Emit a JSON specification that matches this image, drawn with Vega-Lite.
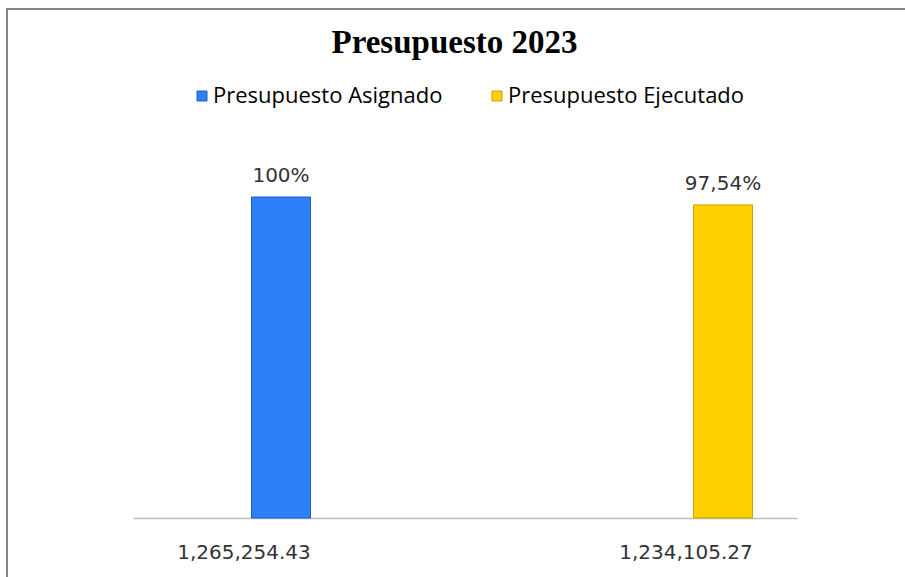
{
  "$schema": "https://vega.github.io/schema/vega-lite/v6.json",
  "width": 901,
  "height": 571,
  "autosize": {"type": "none"},
  "padding": {"left": 7, "top": 9, "right": -3, "bottom": -3},
  "background": "white",
  "config": {"view": {"stroke": "#878787", "strokeWidth": 2}},
  "title": {"text": "Presupuesto 2023", "font": "Liberation Serif", "fontSize": 33, "fontWeight": "bold", "color": "#000000", "anchor": "middle", "baseline": "alphabetic", "offset": -77, "dx": -3},
  "data": {"values": [
    {"serie": "Presupuesto Asignado", "monto": "1,265,254.43", "pct": 100, "etiqueta": "100%"},
    {"serie": "Presupuesto Ejecutado", "monto": "1,234,105.27", "pct": 97.54, "etiqueta": "97,54%"}
  ]},
  "encoding": {
    "x": {
      "field": "monto", "type": "nominal", "sort": null,
      "scale": {"range": [126, 790], "paddingInner": 0.8665, "paddingOuter": 0.1844, "align": 0.727},
      "axis": {"orient": "bottom", "offset": -62, "title": null, "grid": false, "domainColor": "#bfbfbf", "domainWidth": 1.5, "ticks": false, "tickSize": 0, "labelPadding": 24, "labelFont": "DejaVu Sans", "labelFontSize": 20, "labelColor": "#333333", "labelOffset": -37, "labelAngle": 0, "labelLimit": 0}
    },
    "y": {"field": "pct", "type": "quantitative", "scale": {"domain": [-19.31, 158.57], "nice": false, "zero": false}, "axis": null}
  },
  "layer": [
    {
      "mark": {"type": "bar", "strokeWidth": 1},
      "encoding": {
        "y2": {"datum": 0},
        "color": {
          "field": "serie", "type": "nominal",
          "scale": {"domain": ["Presupuesto Asignado", "Presupuesto Ejecutado"], "range": ["#2e80f8", "#ffd000"]},
          "legend": {"orient": "none", "legendX": 184, "legendY": 76, "direction": "horizontal", "title": null, "padding": 0, "symbolType": "square", "symbolSize": 100, "labelFont": "Open Sans", "labelFontSize": 22, "labelColor": "#000000", "labelLimit": 0, "columnPadding": 43, "labelOffset": 0, "symbolStrokeWidth": 1}
        },
        "stroke": {
          "field": "serie", "type": "nominal",
          "scale": {"domain": ["Presupuesto Asignado", "Presupuesto Ejecutado"], "range": ["#1f5fc0", "#c9a200"]},
          "legend": null
        }
      }
    },
    {
      "mark": {"type": "text", "baseline": "bottom", "dy": -11, "font": "DejaVu Sans", "fontSize": 20, "color": "#333333"},
      "encoding": {"text": {"field": "etiqueta"}}
    }
  ]
}
